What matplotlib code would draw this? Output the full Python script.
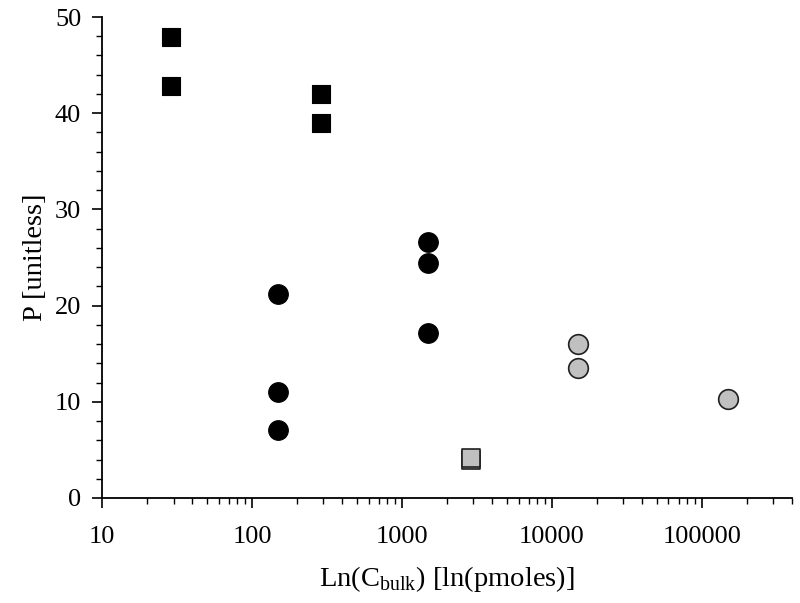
import matplotlib
matplotlib.use("Agg")
import matplotlib.pyplot as plt
from matplotlib.ticker import LogLocator, MultipleLocator, FixedLocator

plt.rcParams["font.family"] = ["Liberation Serif", "DejaVu Serif"]
plt.rcParams["mathtext.fontset"] = "custom"
plt.rcParams["mathtext.rm"] = "Liberation Serif"

# black squares
sq_black_x = [29, 29, 290, 290]
sq_black_y = [47.9, 42.8, 42.0, 39.0]
# black circles
ci_black_x = [150, 150, 150, 1500, 1500, 1500]
ci_black_y = [21.2, 11.0, 7.1, 26.6, 24.4, 17.1]
# gray squares
sq_gray_x = [2900, 2900]
sq_gray_y = [4.0, 4.2]
# gray circles
ci_gray_x = [15000, 15000, 150000]
ci_gray_y = [16.0, 13.5, 10.3]

xtick_vals = [10, 100, 1000, 10000, 100000]
xtick_labels = ["10", "100", "1000", "10000", "100000"]

fig = plt.figure(figsize=(8, 6.03), dpi=100)
ax = fig.add_axes([102 / 800, 1 - 498 / 603, (792 - 102) / 800, (498 - 17) / 603])

ax.scatter(sq_black_x, sq_black_y, marker="s", s=155, c="black", edgecolors="black", linewidths=0.8, zorder=3)
ax.scatter(ci_black_x, ci_black_y, marker="o", s=200, c="black", edgecolors="black", linewidths=0.8, zorder=3)
ax.scatter(sq_gray_x, sq_gray_y, marker="s", s=155, c="#c0c0c0", edgecolors="#202020", linewidths=1.2, zorder=3)
ax.scatter(ci_gray_x, ci_gray_y, marker="o", s=200, c="#c0c0c0", edgecolors="#202020", linewidths=1.2, zorder=3)

ax.set_xscale("log")
ax.set_xlim(10, 400000)
ax.set_ylim(0, 50)

ax.xaxis.set_major_locator(FixedLocator(xtick_vals))
ax.set_xticks(xtick_vals)
ax.set_xticklabels(xtick_labels)
ax.xaxis.set_minor_locator(LogLocator(base=10, subs=range(2, 10), numticks=20))
ax.xaxis.set_minor_formatter(plt.NullFormatter())
ax.yaxis.set_major_locator(MultipleLocator(10))
ax.yaxis.set_minor_locator(MultipleLocator(2))

for s in ["top", "right"]:
    ax.spines[s].set_visible(False)
for s in ["left", "bottom"]:
    ax.spines[s].set_linewidth(1.3)

ax.tick_params(which="major", direction="out", length=7, width=1.2, labelsize=19)
ax.tick_params(axis="x", which="major", pad=13)
ax.tick_params(axis="y", which="major", pad=8)
ax.tick_params(which="minor", direction="out", length=4, width=1.0)

ax.set_xlabel(r"Ln(C$_{\mathregular{bulk}}$) [ln(pmoles)]", fontsize=20.5, labelpad=12)
ax.set_ylabel("P [unitless]", fontsize=20.5, labelpad=5)

fig.savefig("out.png", dpi=100)
